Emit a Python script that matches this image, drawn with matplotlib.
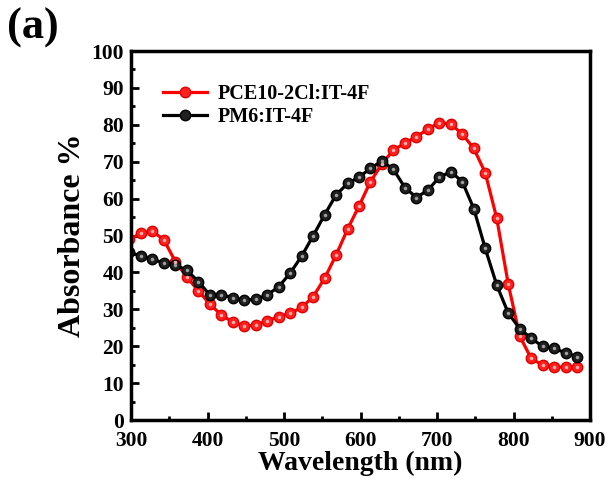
import matplotlib.pyplot as plt
from matplotlib.ticker import MultipleLocator

# wavelength (nm)
wl = [298, 313, 328, 343, 358, 373, 388, 403, 418, 433,
      448, 463, 478, 493, 508, 523, 538, 553, 568, 583,
      598, 613, 628, 643, 658, 673, 688, 703, 718, 733,
      748, 763, 778, 793, 808, 823, 838, 853, 868, 883]

pce10 = [49.0, 50.6, 51.2, 48.8, 42.9, 38.7, 35.0, 31.4, 28.5, 26.5,
         25.5, 25.7, 26.9, 28.0, 28.9, 30.5, 33.4, 38.4, 44.7, 51.7,
         58.0, 64.6, 69.4, 73.2, 75.0, 76.8, 78.8, 80.6, 80.2, 77.5,
         73.6, 67.0, 54.7, 36.9, 22.8, 16.7, 14.9, 14.4, 14.3, 14.3]

pm6 = [45.5, 44.4, 43.5, 42.6, 42.0, 40.6, 37.5, 33.9, 33.9, 33.2,
       32.5, 32.7, 33.9, 36.1, 39.8, 44.4, 49.9, 55.6, 61.0, 64.1,
       65.8, 68.2, 70.2, 67.9, 63.0, 60.3, 62.3, 65.8, 67.3, 64.6,
       57.3, 46.5, 36.6, 29.0, 24.8, 22.1, 20.0, 19.4, 18.2, 17.2]

plt.rcParams['font.family'] = 'Liberation Serif'
plt.rcParams['font.weight'] = 'bold'

fig = plt.figure(figsize=(6.14, 4.84), dpi=100)
ax = fig.add_axes([0.2134, 0.1322, 0.7476, 0.7624])

ax.plot(wl, pce10, color='#ff0000', lw=2.3, marker='o', ms=7.5,
        mfc='#ff2020', mec='#e00000', mew=1, label='PCE10-2Cl:IT-4F')
ax.plot(wl, pm6, color='black', lw=2.3, marker='o', ms=7.5,
        mfc='#202020', mec='black', mew=1, label='PM6:IT-4F')
# highlight on the balls
ax.plot(wl, pce10, ls='none', marker='o', ms=2.5, mfc='#ffb0b0', mec='none')
ax.plot(wl, pm6, ls='none', marker='o', ms=2.5, mfc='#a0a0a0', mec='none')

ax.set_xlim(300, 900)
ax.set_ylim(0, 100)
ax.xaxis.set_major_locator(MultipleLocator(100))
ax.xaxis.set_minor_locator(MultipleLocator(50))
ax.yaxis.set_major_locator(MultipleLocator(10))
ax.yaxis.set_minor_locator(MultipleLocator(5))
ax.tick_params(which='both', direction='in', width=2, labelsize=15.5)
ax.tick_params(axis='x', pad=8)
ax.tick_params(axis='y', pad=5)
ax.tick_params(which='major', length=6)
ax.tick_params(which='minor', length=3)
for s in ax.spines.values():
    s.set_linewidth(2.5)

ax.set_xlabel('Wavelength (nm)', fontsize=20, fontweight='bold', labelpad=0)
ax.set_ylabel('Absorbance %', fontsize=23, fontweight='bold', labelpad=3)

leg = ax.legend(loc='upper left', bbox_to_anchor=(0.03, 0.96), frameon=False,
                prop={'size': 14.5, 'weight': 'bold'}, handlelength=2.2,
                labelspacing=0.15, handletextpad=0.5)

fig.text(0.012, 0.985, '(a)', fontsize=32, fontweight='bold', va='top')

plt.savefig('out.png')
